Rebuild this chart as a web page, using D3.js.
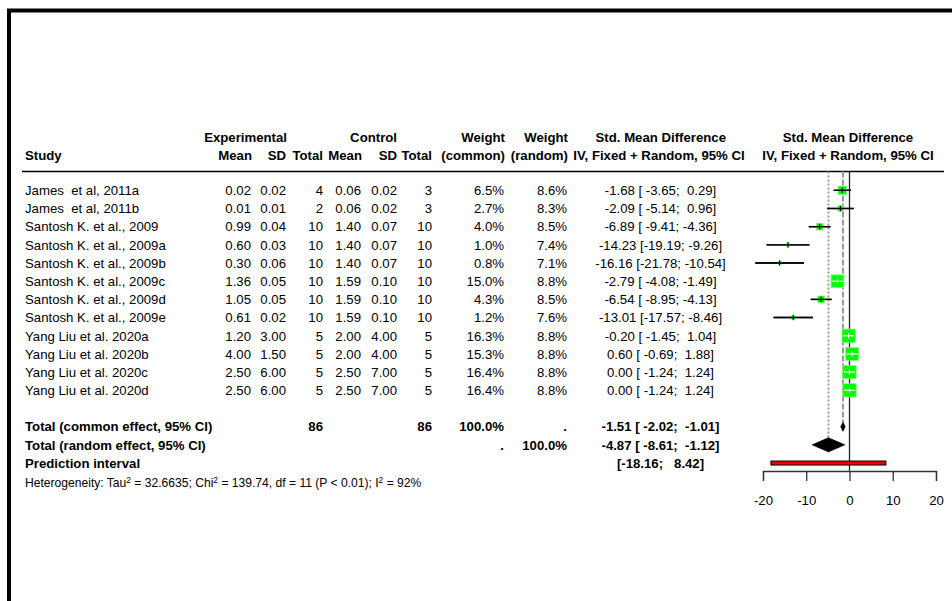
<!DOCTYPE html>
<html>
<head>
<meta charset="utf-8">
<script src="https://cdn.jsdelivr.net/npm/d3@7"></script>
<style>
  html, body { margin: 0; padding: 0; background: #fff; }
  svg text { font-family: "Liberation Sans", Arial, sans-serif; white-space: pre; fill: #000; }
</style>
</head>
<body>
<svg id="chart" width="952" height="601"></svg>
<script>
// ---- Study-level data ----
const studies = [
  "James  et al, 2011a", "James  et al, 2011b", "Santosh K. et al., 2009",
  "Santosh K. et al., 2009a", "Santosh K. et al., 2009b", "Santosh K. et al., 2009c",
  "Santosh K. et al., 2009d", "Santosh K. et al., 2009e", "Yang Liu et al. 2020a",
  "Yang Liu et al. 2020b", "Yang Liu et al. 2020c", "Yang Liu et al. 2020d"
];
const meanE  = [0.02, 0.01, 0.99, 0.60, 0.30, 1.36, 1.05, 0.61, 1.20, 4.00, 2.50, 2.50];
const sdE    = [0.02, 0.01, 0.04, 0.03, 0.06, 0.05, 0.05, 0.02, 3.00, 1.50, 6.00, 6.00];
const nE     = [4, 2, 10, 10, 10, 10, 10, 10, 5, 5, 5, 5];
const meanC  = [0.06, 0.06, 1.40, 1.40, 1.40, 1.59, 1.59, 1.59, 2.00, 2.00, 2.50, 2.50];
const sdC    = [0.02, 0.02, 0.07, 0.07, 0.07, 0.10, 0.10, 0.10, 4.00, 4.00, 7.00, 7.00];
const nC     = [3, 3, 10, 10, 10, 10, 10, 10, 5, 5, 5, 5];
const wCommon = [6.5, 2.7, 4.0, 1.0, 0.8, 15.0, 4.3, 1.2, 16.3, 15.3, 16.4, 16.4];
const wRandom = [8.6, 8.3, 8.5, 7.4, 7.1, 8.8, 8.5, 7.6, 8.8, 8.8, 8.8, 8.8];
const smd    = [-1.68, -2.09, -6.89, -14.23, -16.16, -2.79, -6.54, -13.01, -0.20, 0.60, 0.00, 0.00];
const lower  = [-3.65, -5.14, -9.41, -19.19, -21.78, -4.08, -8.95, -17.57, -1.45, -0.69, -1.24, -1.24];
const upper  = [0.29, 0.96, -4.36, -9.26, -10.54, -1.49, -4.13, -8.46, 1.04, 1.88, 1.24, 1.24];
const ciText = [
  "-1.68 [ -3.65;  0.29]", "-2.09 [ -5.14;  0.96]", "-6.89 [ -9.41; -4.36]",
  "-14.23 [-19.19; -9.26]", "-16.16 [-21.78; -10.54]", "-2.79 [ -4.08; -1.49]",
  "-6.54 [ -8.95; -4.13]", "-13.01 [-17.57; -8.46]", "-0.20 [ -1.45;  1.04]",
  "0.60 [ -0.69;  1.88]", "0.00 [ -1.24;  1.24]", "0.00 [ -1.24;  1.24]"
];

// ---- Pooled estimates ----
const totalN = [86, 86];
const commonEffect = { est: -1.51, lo: -2.02, hi: -1.01, text: "-1.51 [ -2.02;  -1.01]" };
const randomEffect = { est: -4.87, lo: -8.61, hi: -1.12, text: "-4.87 [ -8.61;  -1.12]" };
const predInterval = { lo: -18.16, hi: 8.42, text: "[-18.16;   8.42]" };
const axisTicks = [-20, -10, 0, 10, 20];

// ---- Layout ----
const svg = d3.select("#chart");
const FS = 13.2;
const x = d3.scaleLinear().domain([-20, 20]).range([763, 936]);
const row = d3.scaleLinear().domain([0, 11]).range([190.3, 390.3]);
const side = d3.scaleSqrt().domain([0, 16.4]).range([0, 13.3]);

const col = {
  study: 25, meanE: 251, sdE: 286, nE: 323, meanC: 361, sdC: 397, nC: 432,
  wCom: 504, wRan: 567, ci: 660.5, plot: x(0)
};

svg.append("rect").attr("width", 952).attr("height", 601).attr("fill", "#fff");

// Frame
svg.append("path")
  .attr("d", "M9,601V10.5H952")
  .attr("fill", "none").attr("stroke", "#000").attr("stroke-width", 4);

function label(txt, xx, yy, anchor, bold, size) {
  return svg.append("text")
    .attr("x", xx).attr("y", yy).attr("dy", "0.36em")
    .attr("text-anchor", anchor || "start")
    .attr("font-size", size || FS)
    .attr("font-weight", bold ? "bold" : "normal")
    .text(txt);
}

// Column headers
const h1 = row(-3) + 1.2, h2 = row(-2) + 1;
label("Experimental", 287, h1, "end", true);
label("Control", 397, h1, "end", true);
label("Weight", 505, h1, "end", true);
label("Weight", 568, h1, "end", true);
label("Std. Mean Difference", 660.8, h1, "middle", true);
label("Std. Mean Difference", col.plot - 1.5, h1, "middle", true);
label("Study", col.study, h2, "start", true);
label("Mean", col.meanE + 1, h2, "end", true);
label("SD", col.sdE, h2, "end", true);
label("Total", col.nE, h2, "end", true);
label("Mean", col.meanC + 1, h2, "end", true);
label("SD", col.sdC, h2, "end", true);
label("Total", col.nC, h2, "end", true);
label("(common)", 505, h2, "end", true);
label("(random)", 568, h2, "end", true);
label("IV, Fixed + Random, 95% CI", 659, h2, "middle", true);
label("IV, Fixed + Random, 95% CI", col.plot - 1.5, h2, "middle", true);

const lineY = 171.5;
svg.append("line").attr("x1", 22).attr("x2", 944).attr("y1", lineY).attr("y2", lineY)
  .attr("stroke", "#000").attr("stroke-width", 1.3);

// Study rows
const f2 = d3.format(".2f");
studies.forEach((s, i) => {
  const y = row(i);
  label(s, col.study, y, "start");
  label(f2(meanE[i]), col.meanE, y, "end");
  label(f2(sdE[i]), col.sdE, y, "end");
  label(String(nE[i]), col.nE, y, "end");
  label(f2(meanC[i]), col.meanC, y, "end");
  label(f2(sdC[i]), col.sdC, y, "end");
  label(String(nC[i]), col.nC, y, "end");
  label(wCommon[i].toFixed(1) + "%", col.wCom, y, "end");
  label(wRandom[i].toFixed(1) + "%", col.wRan, y, "end");
  label(ciText[i], col.ci, y, "middle");
});

// Total rows
const yCom = row(13), yRan = row(14), yPred = row(15);
label("Total (common effect, 95% CI)", col.study, yCom, "start", true);
label(String(totalN[0]), col.nE, yCom, "end", true);
label(String(totalN[1]), col.nC, yCom, "end", true);
label("100.0%", col.wCom, yCom, "end", true);
label(".", col.wRan, yCom, "end", true);
label(commonEffect.text, col.ci, yCom, "middle", true);

label("Total (random effect, 95% CI)", col.study, yRan, "start", true);
label(".", col.wCom, yRan, "end", true);
label("100.0%", col.wRan, yRan, "end", true);
label(randomEffect.text, col.ci, yRan, "middle", true);

label("Prediction interval", col.study, yPred, "start", true);
label(predInterval.text, col.ci, yPred, "middle", true);

// Heterogeneity statement
const het = svg.append("text").attr("x", col.study).attr("y", row(16.1)).attr("dy", "0.36em")
  .attr("font-size", 12.1);
[["Heterogeneity: Tau", false], ["2", true], [" = 32.6635; Chi", false], ["2", true],
 [" = 139.74, df = 11 (P < 0.01); I", false], ["2", true], [" = 92%", false]]
  .forEach(([t, sup]) => {
    const ts = het.append("tspan").text(t);
    if (sup) ts.attr("font-size", 8.4).attr("dy", "-0.55em");
    else if (t !== "Heterogeneity: Tau") ts.attr("dy", "0.38em");
  });

// ---- Forest plot ----
const axisY = 471;
const comHalf = 4.5, ranHalf = 7;

// reference lines
svg.append("line").attr("x1", x(randomEffect.est)).attr("x2", x(randomEffect.est))
  .attr("y1", lineY).attr("y2", yRan - ranHalf)
  .attr("stroke", "#999").attr("stroke-width", 2).attr("stroke-dasharray", "2,2");
svg.append("line").attr("x1", x(commonEffect.est)).attr("x2", x(commonEffect.est))
  .attr("y1", lineY).attr("y2", yCom - comHalf)
  .attr("stroke", "#999").attr("stroke-width", 2).attr("stroke-dasharray", "6,2");
svg.append("line").attr("x1", x(0)).attr("x2", x(0))
  .attr("y1", lineY).attr("y2", axisY)
  .attr("stroke", "#222").attr("stroke-width", 1.3);

// study squares and confidence intervals
studies.forEach((s, i) => {
  const y = row(i);
  const a = side(wCommon[i]);
  const cx = x(smd[i]);
  const inside = x(lower[i]) >= cx - a / 2 && x(upper[i]) <= cx + a / 2;
  const lc = inside ? "#fff" : "#000";
  if (!inside) {
    svg.append("line").attr("x1", x(lower[i])).attr("x2", x(upper[i]))
      .attr("y1", y).attr("y2", y).attr("stroke", "#000").attr("stroke-width", 1.4);
  }
  svg.append("rect").attr("x", cx - a / 2).attr("y", y - a / 2)
    .attr("width", a).attr("height", a)
    .attr("fill", "#00ff00").attr("stroke", "#80ff80").attr("stroke-width", 0.8);
  svg.append("line").attr("x1", x(lower[i])).attr("x2", x(upper[i]))
    .attr("y1", y).attr("y2", y).attr("stroke", lc).attr("stroke-width", inside ? 1.2 : 1.4);
  svg.append("line").attr("x1", cx).attr("x2", cx)
    .attr("y1", y - 2.8).attr("y2", y + 2.8).attr("stroke", lc).attr("stroke-width", 1.1);
});

// pooled diamonds
function diamond(e, y, h) {
  svg.append("path")
    .attr("d", `M${x(e.lo)},${y}L${x(e.est)},${y - h}L${x(e.hi)},${y}L${x(e.est)},${y + h}Z`)
    .attr("fill", "#000").attr("stroke", "#000").attr("stroke-width", 0.8);
}
diamond(commonEffect, yCom, comHalf);
diamond(randomEffect, yRan, ranHalf);

// prediction interval bar
svg.append("rect")
  .attr("x", x(predInterval.lo)).attr("y", yPred - 2)
  .attr("width", x(predInterval.hi) - x(predInterval.lo)).attr("height", 4)
  .attr("fill", "#ee0000").attr("stroke", "#000").attr("stroke-width", 1);

// x axis
const ax = svg.append("g").attr("transform", `translate(0,${axisY})`)
  .call(d3.axisBottom(x).tickValues(axisTicks).tickFormat(d => String(d))
    .tickSize(10).tickSizeOuter(10).tickPadding(15));
ax.selectAll("path, line").attr("stroke", "#333").attr("stroke-width", 1.3);
ax.selectAll("text").attr("font-size", FS).attr("fill", "#000")
  .style("font-family", "'Liberation Sans', Arial, sans-serif");
</script>
</body>
</html>
